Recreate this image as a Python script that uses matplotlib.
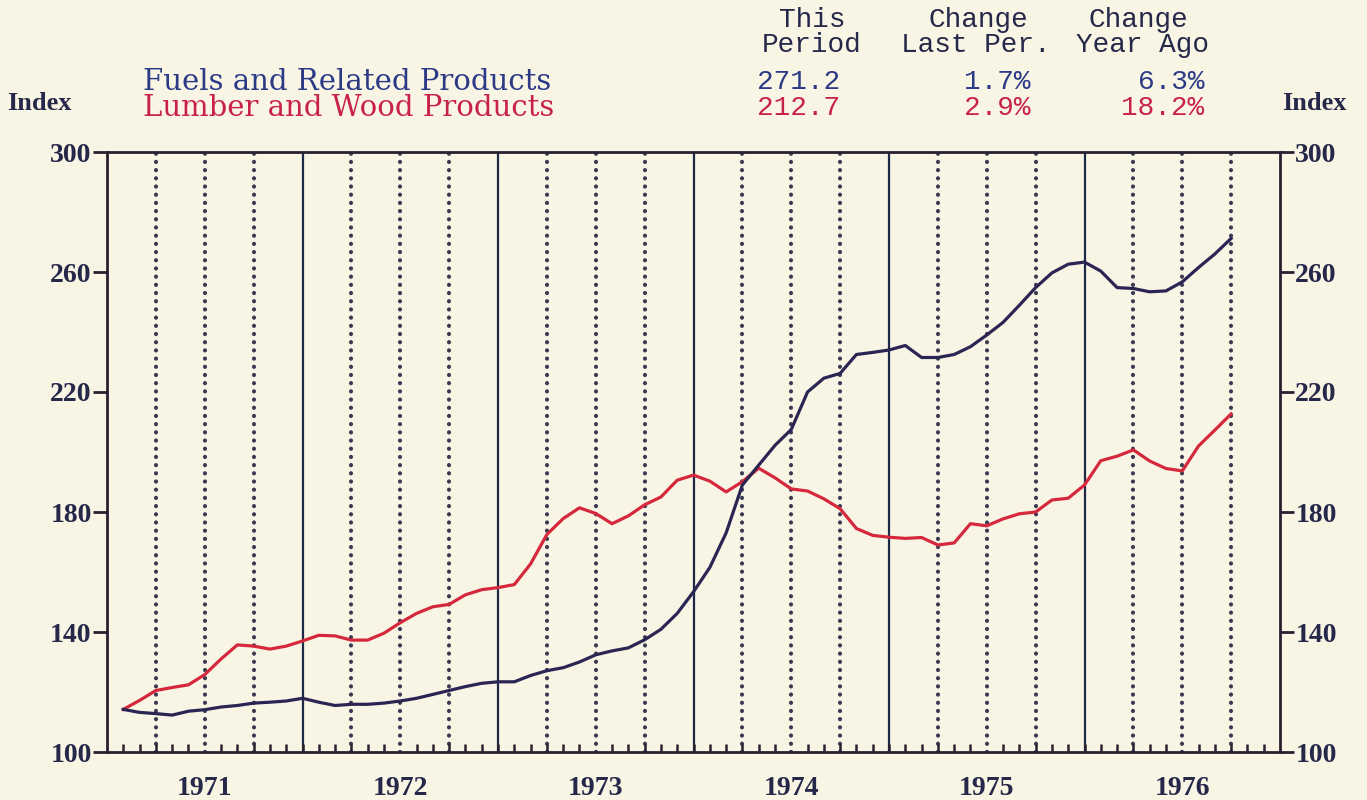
import matplotlib
matplotlib.use("Agg")
import matplotlib.pyplot as plt
import numpy as np

plt.rcParams['lines.scale_dashes'] = False

# monthly positions, month 1 = Jan 1971 (axis runs 0..72 months)
months = np.arange(1, 70)

fuels = [114.2, 113.2, 112.8, 112.3, 113.6, 114.1, 115.0, 115.5, 116.3, 116.6, 117.0, 117.9,
         116.6, 115.5, 115.9, 115.9, 116.3, 117.0, 117.9, 119.2, 120.5, 121.8, 122.9, 123.4,
         123.4, 125.5, 127.1, 128.1, 130.0, 132.4, 133.7, 134.7, 137.4, 140.9, 146.2, 153.4,
         161.5, 173.0, 189.0, 195.6, 202.2, 207.5, 220.0, 224.6, 226.2, 232.5, 233.2, 234.0,
         235.5, 231.5, 231.5, 232.5, 235.1, 239.0, 243.2, 248.9, 254.8, 259.7, 262.6, 263.3,
         260.3, 254.8, 254.5, 253.4, 253.7, 256.7, 261.5, 266.0, 271.2]

lumber = [114.2, 117.2, 120.5, 121.5, 122.4, 125.8, 131.0, 135.7, 135.3, 134.3, 135.3, 137.0,
          138.9, 138.7, 137.3, 137.3, 139.6, 143.1, 146.2, 148.4, 149.2, 152.4, 154.1, 154.8,
          155.8, 162.7, 172.5, 177.8, 181.4, 179.5, 176.1, 178.7, 182.4, 185.0, 190.6, 192.3,
          190.3, 186.7, 190.1, 194.6, 191.4, 187.7, 187.0, 184.4, 181.1, 174.5, 172.2, 171.6,
          171.2, 171.5, 169.0, 169.7, 176.1, 175.4, 177.7, 179.4, 180.0, 184.0, 184.6, 189.0,
          197.1, 198.6, 200.7, 197.0, 194.5, 193.7, 202.0, 207.3, 212.7]

years = ['1971', '1972', '1973', '1974', '1975', '1976']
yticks = [100, 140, 180, 220, 260, 300]

names = ['Fuels and Related Products', 'Lumber and Wood Products']
this_period = ['271.2', '212.7']
change_last = ['1.7%', '2.9%']
change_year = ['6.3%', '18.2%']

bg = '#f8f5e5'
navy = '#2a2552'
red = '#d6283c'
blue_txt = '#2c3a86'
red_txt = '#c8224a'
ink = '#26284a'
serif = 'Liberation Serif'
wide_serif = 'DejaVu Serif'
mono = 'Liberation Mono'

W, H = 1367, 800
fig = plt.figure(figsize=(W / 100, H / 100), dpi=100, facecolor=bg)
ax = fig.add_axes([107 / W, 1 - 752 / H, (1280 - 107) / W, (752 - 152) / H], facecolor=bg)

ax.set_xlim(0, 72)
ax.set_ylim(100, 300)

# quarter dotted lines and year solid lines
for q in range(3, 72, 3):
    if q % 12 == 0:
        ax.axvline(q, color='#1e2848', lw=1.6, zorder=1)
    else:
        ax.plot([q, q], [100, 300], color='#3a3a52', lw=3.0,
                linestyle=(0, (0.1, 5.8)), dash_capstyle='round', zorder=1)

ax.plot(months, lumber, color=red, lw=2.3, zorder=3)
ax.plot(months, fuels, color=navy, lw=2.3, zorder=4)

for s in ax.spines.values():
    s.set_color('#2a2030')
    s.set_linewidth(2)

ax.set_xticks([6 + 12 * i for i in range(6)])
ax.set_xticklabels(years, fontsize=20, family=serif, weight='bold', color=ink)
ax.tick_params(axis='x', which='major', length=0, pad=17)
ax.set_xticks(np.arange(1, 72), minor=True)
ax.tick_params(axis='x', which='minor', direction='in', length=6, width=1.8, color='#2a2030')

ax.set_yticks(yticks)
ax.set_yticklabels([str(v) for v in yticks], fontsize=20, family=serif, weight='bold', color=ink)
ax.tick_params(axis='y', direction='out', length=10, width=2, color='#2a2030', pad=1)

ax2 = ax.twinx()
ax2.set_ylim(100, 300)
ax2.set_yticks(yticks)
ax2.set_yticklabels([str(v) for v in yticks], fontsize=20, family=serif, weight='bold', color=ink)
ax2.tick_params(axis='y', direction='out', length=10, width=2, color='#2a2030', pad=1)
for s in ax2.spines.values():
    s.set_visible(False)

def fx(px):
    return px / W

def fy(py):
    return 1 - py / H

fig.text(fx(7), fy(104), 'Index', fontsize=19, family=serif, weight='bold', color=ink, va='center')
fig.text(fx(1282), fy(104), 'Index', fontsize=19, family=serif, weight='bold', color=ink, va='center')

colors = [blue_txt, red_txt]
rows = [82, 108]
for i in range(2):
    fig.text(fx(143), fy(rows[i]), names[i], fontsize=21, family=wide_serif,
             color=colors[i], va='center')
    fig.text(fx(757), fy(rows[i]), this_period[i], fontsize=20, family=mono,
             color=colors[i], va='center')
    fig.text(fx(1030), fy(rows[i]), change_last[i], fontsize=20, family=mono,
             color=colors[i], va='center', ha='right')
    fig.text(fx(1204), fy(rows[i]), change_year[i], fontsize=20, family=mono,
             color=colors[i], va='center', ha='right')

fig.text(fx(812), fy(20), 'This', fontsize=20, family=mono, color=ink, ha='center', va='center')
fig.text(fx(812), fy(45), 'Period', fontsize=20, family=mono, color=ink, ha='center', va='center')
fig.text(fx(978), fy(20), 'Change', fontsize=20, family=mono, color=ink, ha='center', va='center')
fig.text(fx(976), fy(45), 'Last Per.', fontsize=20, family=mono, color=ink, ha='center', va='center')
fig.text(fx(1138), fy(20), 'Change', fontsize=20, family=mono, color=ink, ha='center', va='center')
fig.text(fx(1142), fy(45), 'Year Ago', fontsize=20, family=mono, color=ink, ha='center', va='center')

fig.savefig('out.png', dpi=100, facecolor=bg)
